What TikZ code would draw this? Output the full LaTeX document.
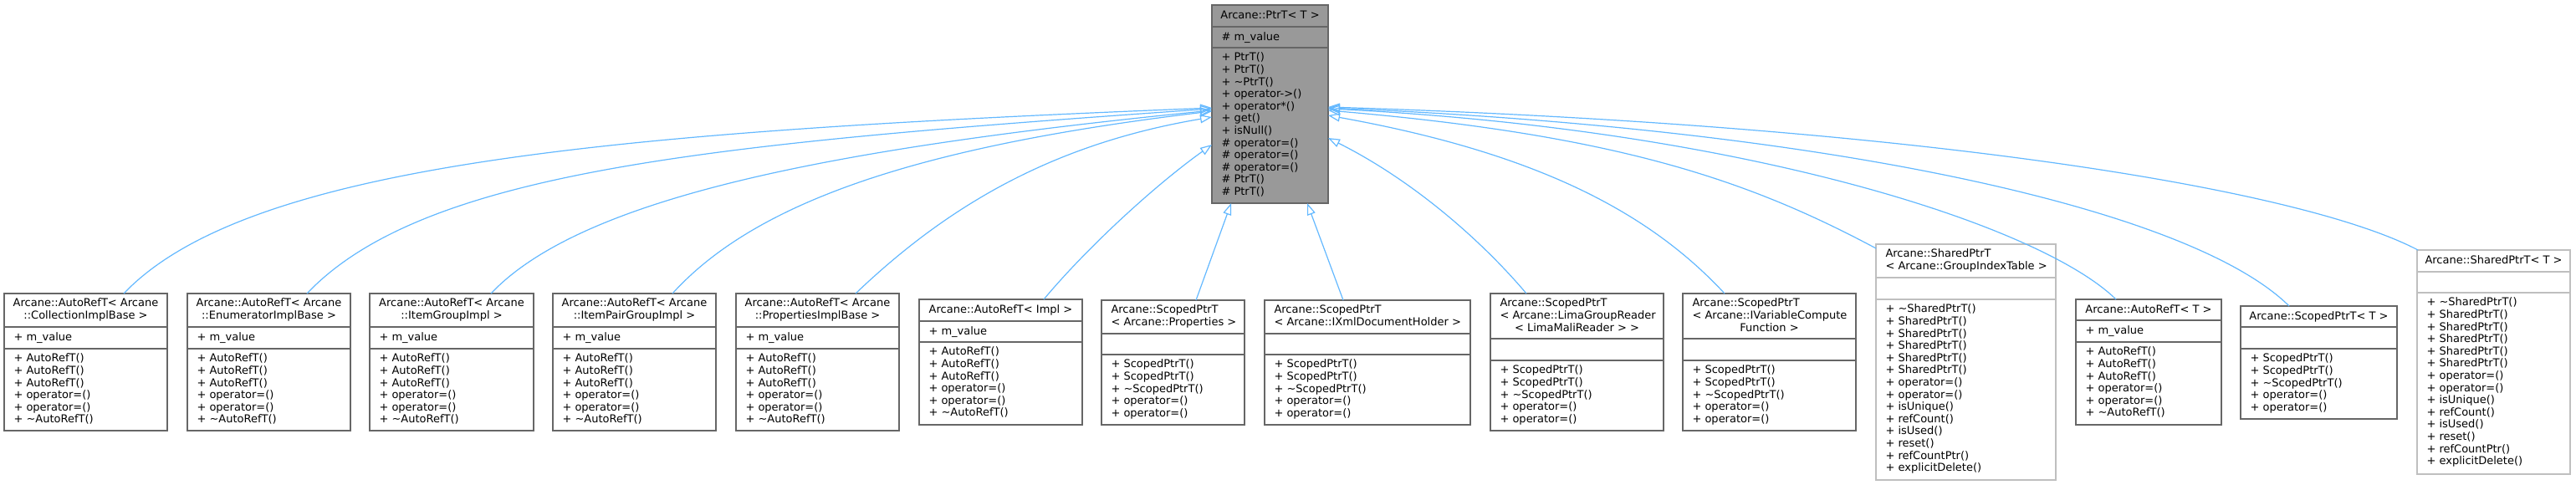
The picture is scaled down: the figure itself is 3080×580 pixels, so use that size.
\documentclass[tikz,border=0pt]{standalone}
\usepackage{fontspec}
\setmainfont{DejaVu Sans}
\usetikzlibrary{arrows.meta}
\definecolor{edgeblue}{HTML}{63B8FF}
\definecolor{boxline}{HTML}{666666}
\definecolor{greyline}{HTML}{BFBFBF}
\definecolor{rootfill}{HTML}{999999}
\tikzset{
  clsbox/.style={draw=boxline, line width=1.3pt, rectangle, inner sep=0pt, outer sep=0pt, anchor=north west, fill=white},
  greybox/.style={draw=greyline},
  rootbox/.style={fill=rootfill},
  txt/.style={inner sep=0pt, outer sep=0pt, align=left, font=\fontsize{13}{14.6}\selectfont, text=black, execute at begin node=\strut},
  ctxt/.style={txt, align=center, anchor=north},
  ltxt/.style={txt, anchor=north west},
  inh/.style={draw=edgeblue, line width=1.2pt, -{Triangle[open, length=14pt, width=10pt]}},
}
% separators: id, h1, h2, colour
\newcommand\clsseps[4]{%
  \draw[line width=1.3pt, draw=#4] ([yshift=-#2pt]#1.north west) -- ([yshift=-#2pt]#1.north east);
  \draw[line width=1.3pt, draw=#4] ([yshift=-#2pt-#3pt]#1.north west) -- ([yshift=-#2pt-#3pt]#1.north east);}
\newcommand\hdrc[2]{\node[ctxt] (#1-h) at ([yshift=-6pt]#1.north) {#2};}
\newcommand\hdrl[2]{\node[ltxt] (#1-h) at ([xshift=11.5pt,yshift=-6pt]#1.north west) {#2};}
% body text: id, suffix, offset of compartment top, text
\newcommand\cbody[4]{\node[ltxt] (#1-#2) at ([xshift=11.5pt,yshift=-#3pt-6pt]#1.north west) {#4};}
\newcommand\mval{+ m\_value}
\newcommand\autorefM{+ AutoRefT()\\+ AutoRefT()\\+ AutoRefT()\\+ operator=()\\+ operator=()\\+ \textasciitilde AutoRefT()}
\newcommand\scopedM{+ ScopedPtrT()\\+ ScopedPtrT()\\+ \textasciitilde ScopedPtrT()\\+ operator=()\\+ operator=()}
\newcommand\sharedM{+ \textasciitilde SharedPtrT()\\+ SharedPtrT()\\+ SharedPtrT()\\+ SharedPtrT()\\+ SharedPtrT()\\+ SharedPtrT()\\+ operator=()\\+ operator=()\\+ isUnique()\\+ refCount()\\+ isUsed()\\+ reset()\\+ refCountPtr()\\+ explicitDelete()}
\begin{document}
\begin{tikzpicture}[x=1pt, y=-1pt]
\useasboundingbox (0,0) rectangle (3080,580);

% root
\node[clsbox, rootbox, minimum width=139pt, minimum height=237pt] (ptr) at (1449,6) {};
\clsseps{ptr}{26}{25}{boxline}
\hdrc{ptr}{Arcane::PtrT< T >}
\cbody{ptr}{a}{26}{\# m\_value}
\cbody{ptr}{m}{51}{+ PtrT()\\+ PtrT()\\+ \textasciitilde PtrT()\\+ operator->()\\+ operator*()\\+ get()\\+ isNull()\\\# operator=()\\\# operator=()\\\# operator=()\\\# PtrT()\\\# PtrT()}

% AutoRefT boxes
\node[clsbox, minimum width=195pt, minimum height=164pt] (c1) at (5,351) {};
\clsseps{c1}{40}{26}{boxline}
\hdrc{c1}{Arcane::AutoRefT< Arcane\\::CollectionImplBase >}
\cbody{c1}{a}{40}{\mval}
\cbody{c1}{m}{66}{\autorefM}

\node[clsbox, minimum width=195pt, minimum height=164pt] (c2) at (224,351) {};
\clsseps{c2}{40}{26}{boxline}
\hdrc{c2}{Arcane::AutoRefT< Arcane\\::EnumeratorImplBase >}
\cbody{c2}{a}{40}{\mval}
\cbody{c2}{m}{66}{\autorefM}

\node[clsbox, minimum width=196pt, minimum height=164pt] (c3) at (442,351) {};
\clsseps{c3}{40}{26}{boxline}
\hdrc{c3}{Arcane::AutoRefT< Arcane\\::ItemGroupImpl >}
\cbody{c3}{a}{40}{\mval}
\cbody{c3}{m}{66}{\autorefM}

\node[clsbox, minimum width=195pt, minimum height=164pt] (c4) at (661,351) {};
\clsseps{c4}{40}{26}{boxline}
\hdrc{c4}{Arcane::AutoRefT< Arcane\\::ItemPairGroupImpl >}
\cbody{c4}{a}{40}{\mval}
\cbody{c4}{m}{66}{\autorefM}

\node[clsbox, minimum width=195pt, minimum height=164pt] (c5) at (880,351) {};
\clsseps{c5}{40}{26}{boxline}
\hdrc{c5}{Arcane::AutoRefT< Arcane\\::PropertiesImplBase >}
\cbody{c5}{a}{40}{\mval}
\cbody{c5}{m}{66}{\autorefM}

\node[clsbox, minimum width=195pt, minimum height=150pt] (c6) at (1099,358) {};
\clsseps{c6}{26}{25}{boxline}
\hdrc{c6}{Arcane::AutoRefT< Impl >}
\cbody{c6}{a}{26}{\mval}
\cbody{c6}{m}{51}{\autorefM}

% ScopedPtrT boxes
\node[clsbox, minimum width=171pt, minimum height=149pt] (c7) at (1317,359) {};
\clsseps{c7}{40}{25}{boxline}
\hdrl{c7}{Arcane::ScopedPtrT\\< Arcane::Properties >}
\cbody{c7}{m}{65}{\scopedM}

\node[clsbox, minimum width=246pt, minimum height=149pt] (c8) at (1512,359) {};
\clsseps{c8}{40}{25}{boxline}
\hdrl{c8}{Arcane::ScopedPtrT\\< Arcane::IXmlDocumentHolder >}
\cbody{c8}{m}{65}{\scopedM}

\node[clsbox, minimum width=207pt, minimum height=164pt] (c9) at (1782,351) {};
\clsseps{c9}{54}{26}{boxline}
\hdrl{c9}{Arcane::ScopedPtrT\\< Arcane::LimaGroupReader}
\node[ctxt] (c9-h3) at ([yshift=-35.2pt]c9.north) {< LimaMaliReader > >};
\cbody{c9}{m}{80}{\scopedM}

\node[clsbox, minimum width=207pt, minimum height=164pt] (c10) at (2012,351) {};
\clsseps{c10}{54}{26}{boxline}
\hdrl{c10}{Arcane::ScopedPtrT\\< Arcane::IVariableCompute}
\node[ctxt] (c10-h3) at ([yshift=-35.2pt]c10.north) {Function >};
\cbody{c10}{m}{80}{\scopedM}

\node[clsbox, greybox, minimum width=215pt, minimum height=282pt] (c11) at (2243,292) {};
\clsseps{c11}{40}{26}{greyline}
\hdrl{c11}{Arcane::SharedPtrT\\< Arcane::GroupIndexTable >}
\cbody{c11}{m}{66}{\sharedM}

\node[clsbox, minimum width=174pt, minimum height=150pt] (c12) at (2482,358) {};
\clsseps{c12}{25}{26}{boxline}
\hdrc{c12}{Arcane::AutoRefT< T >}
\cbody{c12}{a}{25}{\mval}
\cbody{c12}{m}{51}{\autorefM}

\node[clsbox, minimum width=187pt, minimum height=135pt] (c13) at (2679,366) {};
\clsseps{c13}{25}{26}{boxline}
\hdrc{c13}{Arcane::ScopedPtrT< T >}
\cbody{c13}{m}{51}{\scopedM}

\node[clsbox, greybox, minimum width=183pt, minimum height=268pt] (c14) at (2890,299) {};
\clsseps{c14}{26}{25}{greyline}
\hdrc{c14}{Arcane::SharedPtrT< T >}
\cbody{c14}{m}{51}{\sharedM}

% inheritance connectors
\draw[inh] ([xshift=143pt]c1.north west) .. controls +(150,-157.5) and +(-700,28) .. ([yshift=-123pt]ptr.north west);
\draw[inh] ([xshift=143pt]c2.north west) .. controls +(140,-147) and +(-600,42) .. ([yshift=-124pt]ptr.north west);
\draw[inh] ([xshift=145pt]c3.north west) .. controls +(110,-116) and +(-450,45) .. ([yshift=-126pt]ptr.north west);
\draw[inh] ([xshift=143pt]c4.north west) .. controls +(100,-110) and +(-350,42) .. ([yshift=-127pt]ptr.north west);
\draw[inh] ([xshift=143pt]c5.north west) .. controls +(110,-105) and +(-190,32) .. ([yshift=-134pt]ptr.north west);
\draw[inh] ([xshift=149pt]c6.north west) .. controls +(50,-60) and +(-70,50) .. ([yshift=-167pt]ptr.north west);
\draw[inh] ([xshift=113pt]c7.north west) -- ([xshift=23pt]ptr.south west);
\draw[inh] ([xshift=94pt]c8.north west) -- ([xshift=114pt]ptr.south west);
\draw[inh] ([xshift=43pt]c9.north west) .. controls +(-55,-65) and +(100,50) .. ([yshift=-159pt]ptr.north east);
\draw[inh] ([xshift=50pt]c10.north west) .. controls +(-90,-97) and +(250,45) .. ([yshift=-132pt]ptr.north east);
\draw[inh] ([yshift=-5pt]c11.north west) .. controls +(-150,-80) and +(350,30) .. ([yshift=-126pt]ptr.north east);
\draw[inh] ([xshift=48pt]c12.north west) .. controls +(-90,-88) and +(500,25) .. ([yshift=-124pt]ptr.north east);
\draw[inh] ([xshift=58pt]c13.north west) .. controls +(-117,-116) and +(600,25) .. ([yshift=-123pt]ptr.north east);
\draw[inh] ([xshift=1pt]c14.north west) .. controls +(-141,-74) and +(700,22) .. ([yshift=-122pt]ptr.north east);
\end{tikzpicture}
\end{document}
